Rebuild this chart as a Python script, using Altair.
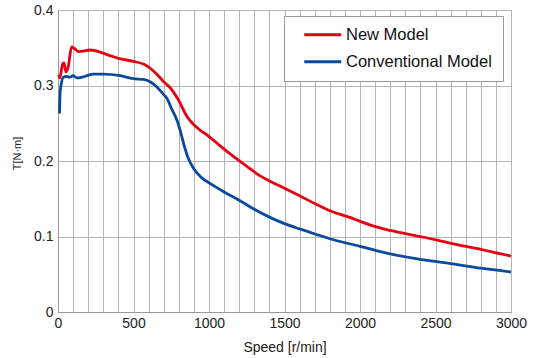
import altair as alt
import pandas as pd

# --- data ---
series_names = ["New Model", "Conventional Model"]
series_colors = ["#e60012", "#0a4a9c"]

speed_new = [5, 12, 30, 40, 52, 68, 90, 108, 135, 215, 325, 400, 498, 570, 640,
             700, 743, 800, 854, 890, 940, 990, 1080, 1162, 1250, 1341, 1407,
             1500, 1600, 1706, 1800, 1938, 2000, 2137, 2200, 2424, 2600, 2800, 3000]
torque_new = [0.314, 0.310, 0.328, 0.330, 0.318, 0.325, 0.351, 0.349, 0.345, 0.347,
              0.341, 0.336, 0.332, 0.328, 0.318, 0.305, 0.297, 0.280, 0.259, 0.250,
              0.241, 0.234, 0.219, 0.206, 0.193, 0.180, 0.173, 0.164, 0.154, 0.143,
              0.134, 0.125, 0.120, 0.111, 0.108, 0.099, 0.091, 0.083, 0.074]

speed_conv = [10, 14, 20, 35, 55, 80, 100, 125, 160, 230, 300, 411, 498, 566, 610,
              655, 700, 721, 755, 788, 810, 832, 860, 898, 950, 1009, 1100, 1208,
              1300, 1407, 1500, 1600, 1706, 1800, 2000, 2137, 2200, 2424, 2600,
              2800, 3000]
torque_conv = [0.263, 0.290, 0.300, 0.311, 0.312, 0.311, 0.313, 0.310, 0.311, 0.315,
               0.315, 0.313, 0.309, 0.308, 0.305, 0.298, 0.288, 0.283, 0.268, 0.254,
               0.240, 0.223, 0.205, 0.190, 0.178, 0.170, 0.159, 0.147, 0.136, 0.125,
               0.117, 0.110, 0.103, 0.097, 0.087, 0.080, 0.077, 0.069, 0.064, 0.058,
               0.053]

x_ticks = list(range(0, 3001, 100))
y_ticks = [0, 0.1, 0.2, 0.3, 0.4]

df = pd.concat([
    pd.DataFrame({"speed": speed_new, "torque": torque_new, "series": series_names[0]}),
    pd.DataFrame({"speed": speed_conv, "torque": torque_conv, "series": series_names[1]}),
])

FONT = "Liberation Sans"

chart = alt.Chart(df).mark_line(strokeWidth=2.8, interpolate="monotone").encode(
    x=alt.X("speed:Q",
            scale=alt.Scale(domain=[0, 3000], nice=False),
            axis=alt.Axis(values=x_ticks, format="d",
                          labelExpr="datum.value % 500 == 0 ? datum.label : ''",
                          title="Speed [r/min]", ticks=False,
                          labelFlush=False, labelPadding=4,
                          titlePadding=10)),
    y=alt.Y("torque:Q",
            scale=alt.Scale(domain=[0, 0.4], nice=False),
            axis=alt.Axis(values=y_ticks, format="~g", title="T[N·m]",
                          ticks=False, labelFlush=False, labelPadding=5,
                          titleFontSize=11, titleX=-41, titleY=143,
                          titleBaseline="middle")),
    color=alt.Color("series:N",
                    scale=alt.Scale(domain=series_names, range=series_colors),
                    legend=alt.Legend(title=None, orient="none", legendX=226, legendY=6,
                                      fillColor="white", strokeColor="#999999",
                                      padding=10.5, symbolOffset=20,
                                      symbolType="M-3,0H3", symbolSize=152,
                                      symbolStrokeWidth=3, labelFontSize=16.5,
                                      labelFont=FONT, labelColor="#111111",
                                      labelOffset=15, rowPadding=10,
                                      labelExpr="datum.label + '   '",
                                      cornerRadius=0)),
).properties(
    width=453, height=302,
    autosize=alt.AutoSizeParams(type="none"),
    padding={"left": 58, "top": 10, "right": 22, "bottom": 46},
).configure_view(
    stroke="#999999", strokeWidth=1
).configure_axis(
    gridColor="#b4b4b4", gridWidth=1, domainColor="#999999",
    labelFont=FONT, labelFontSize=14, labelColor="#222222",
    titleFont=FONT, titleFontSize=14, titleColor="#222222", titleFontWeight="normal",
)

chart.save("out.html", embed_options={"renderer": "svg", "actions": False})
